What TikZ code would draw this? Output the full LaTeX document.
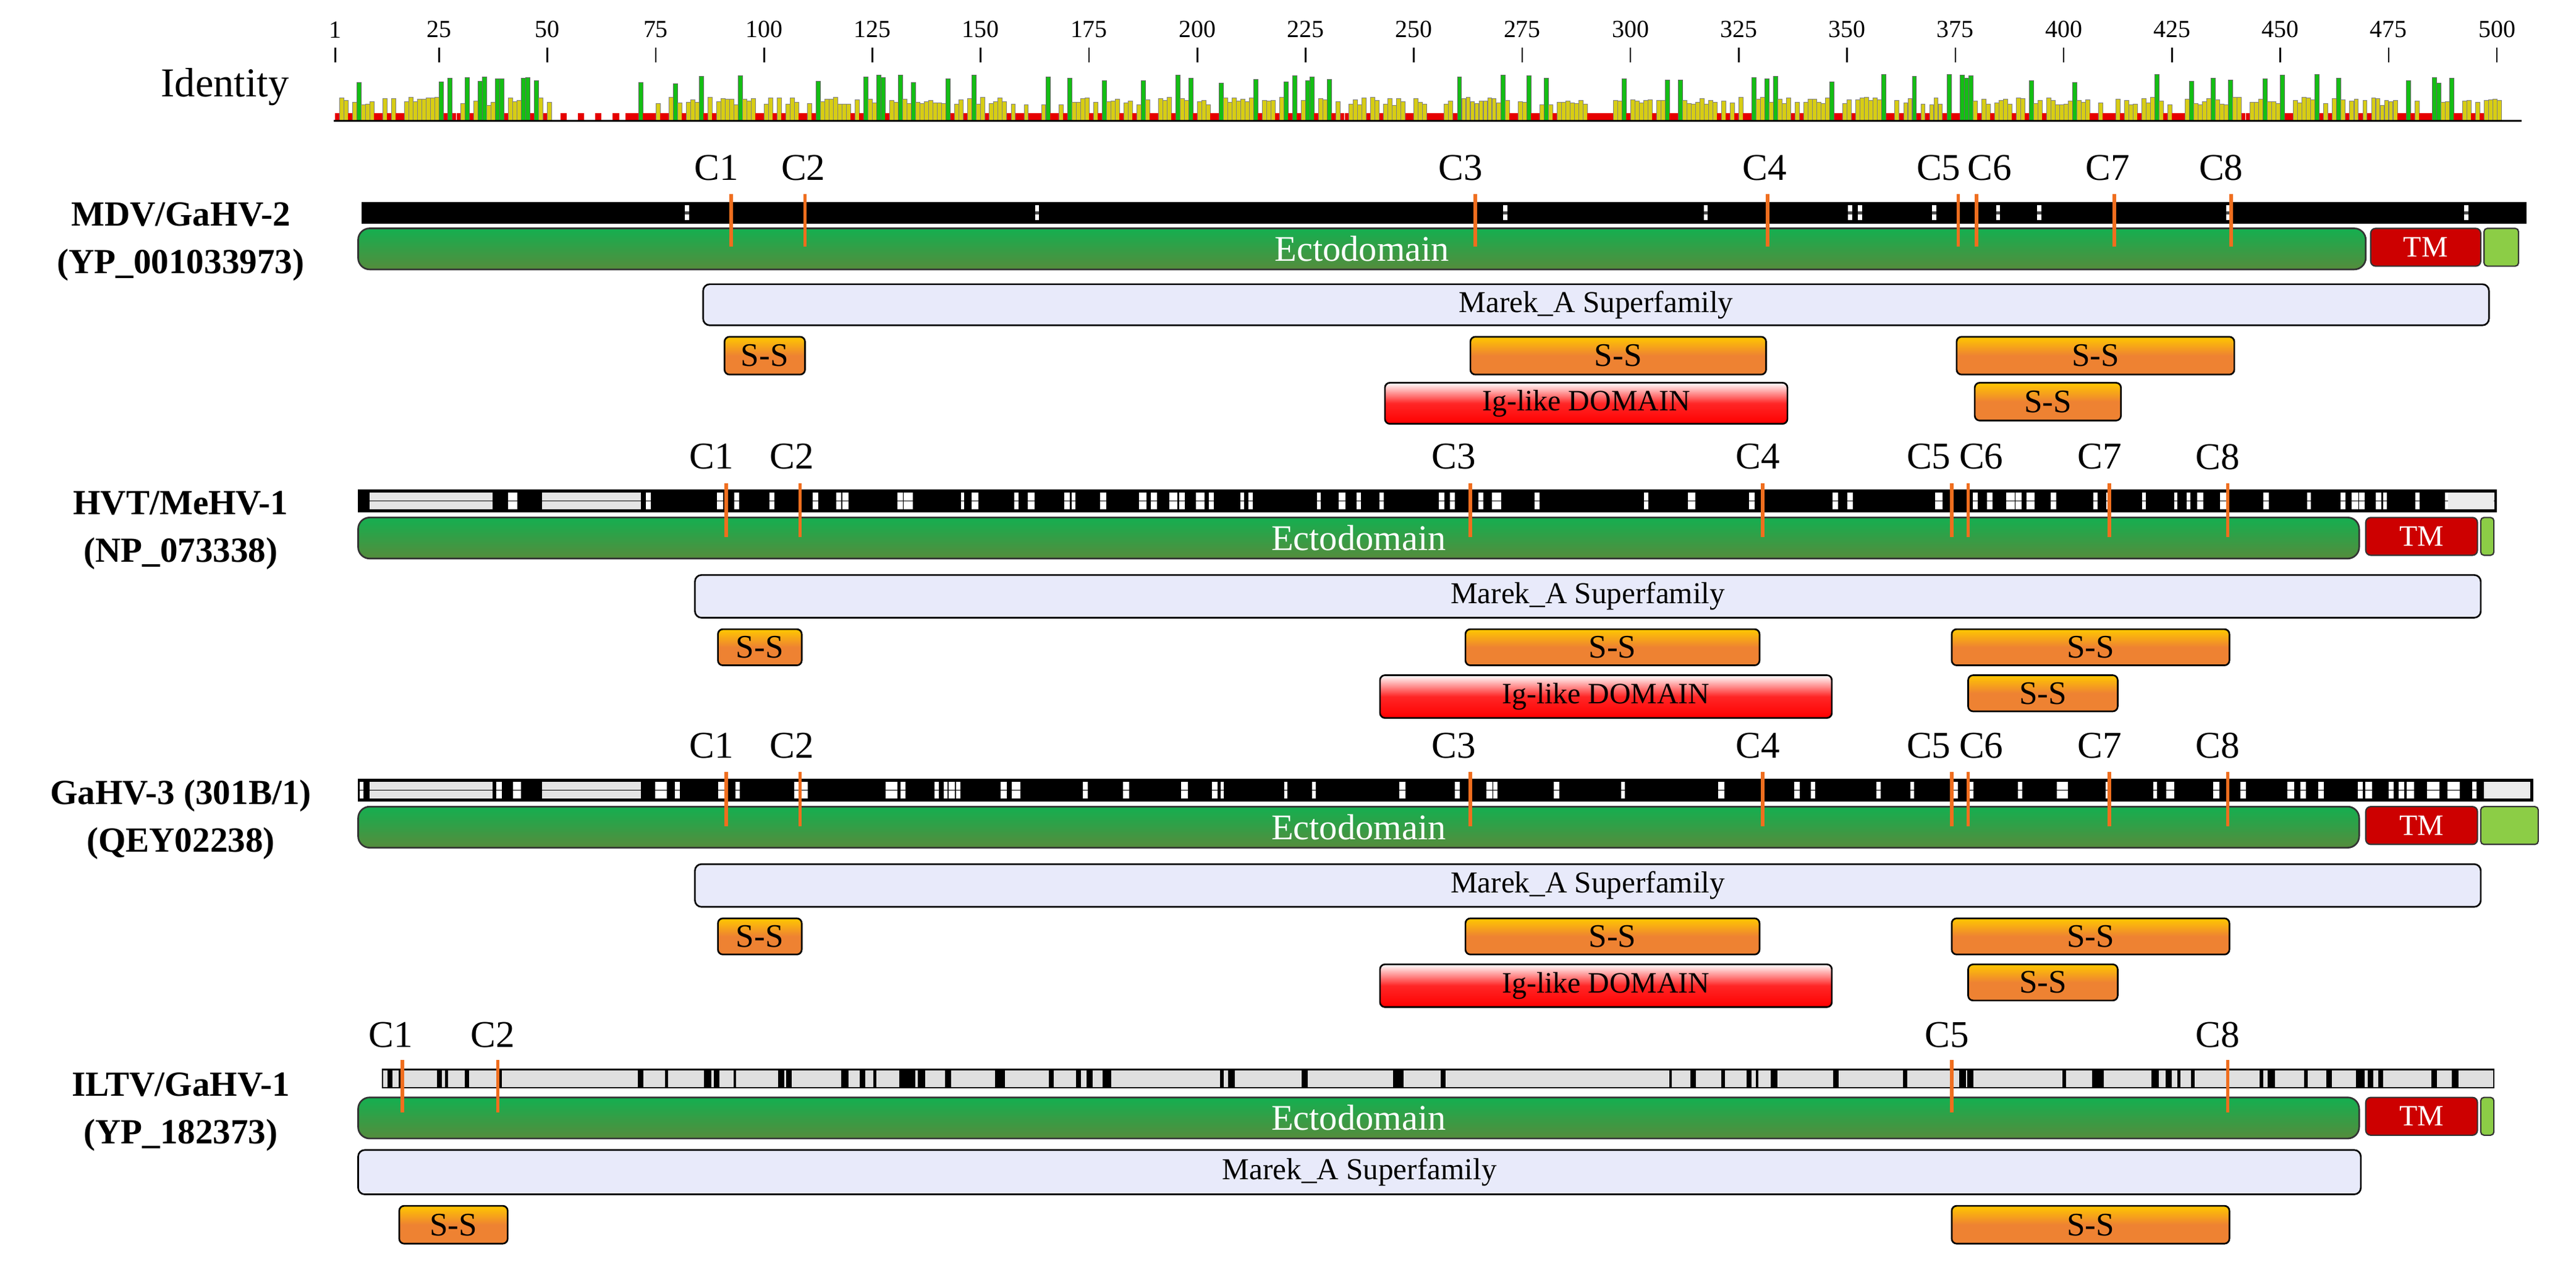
\documentclass[tikz,border=0pt]{standalone}
\usepackage{fontspec}
\setmainfont{Liberation Serif}
\definecolor{ecto1}{RGB}{20,175,80}
\definecolor{ecto2}{RGB}{85,140,60}
\definecolor{tmred}{RGB}{205,0,0}
\definecolor{ltg}{RGB}{140,205,70}
\definecolor{marek}{RGB}{232,234,250}
\definecolor{or1}{RGB}{255,200,0}
\definecolor{or2}{RGB}{238,130,50}
\definecolor{cline}{RGB}{240,110,30}
\definecolor{hgreen}{RGB}{20,190,20}
\definecolor{hyel}{RGB}{215,205,20}
\definecolor{hred}{RGB}{230,0,0}
\tikzset{
 ecto/.style={draw=black!80,line width=1pt,rounded corners=7pt,top color=ecto1,bottom color=ecto2,text=white,font=\fontsize{22}{22}\selectfont},
 tm/.style={draw=black!80,line width=0.8pt,rounded corners=3pt,fill=tmred,text=white,font=\fontsize{18}{18}\selectfont},
 cyto/.style={draw=black!80,line width=0.8pt,rounded corners=2pt,fill=ltg},
 mar/.style={draw=black,line width=1pt,rounded corners=4pt,fill=marek,font=\fontsize{18.5}{18.5}\selectfont},
 ss/.style={draw=black,line width=1pt,rounded corners=3pt,top color=or1,bottom color=or2,middle color=or2,font=\fontsize{20}{20}\selectfont},
 ig/.style={draw=black,line width=1pt,rounded corners=3pt,top color=white,bottom color=red,middle color=red!85!white,font=\fontsize{18}{18}\selectfont},
 clab/.style={font=\fontsize{23}{23}\selectfont,inner sep=0pt},
 cmark/.style={draw=cline,line width=2.2pt},
 rowlab/.style={font=\bfseries\fontsize{21.5}{23}\selectfont,align=center,inner sep=0pt},
}
\newcommand\bx[7]{\pgfmathsetmacro\cx{(#2+#4)/2}\pgfmathsetmacro\cy{(#3+#5)/2}\pgfmathsetmacro\ww{#4-#2}\pgfmathsetmacro\hh{#5-#3}\node[#6,minimum width=\ww pt,minimum height=\hh pt,inner sep=0pt] (#1) at (\cx,\cy) {#7};}
\begin{document}
\begin{tikzpicture}[x=1pt,y=-1pt]
\useasboundingbox (0,0) rectangle (1568,776);
\fill[white] (0,0) rectangle (1568,776);
% identity
\node[font=\fontsize{25}{25}\selectfont] (idl) at (137,53) {Identity};
\pgfmathsetseed{7}
\foreach \p in {1,...,500}{
  \pgfmathsetmacro\xx{204+2.637*(\p-1)}
  \pgfmathsetmacro\r{rnd}
  \pgfmathsetmacro\hv{(\p>50 && \p<68) ? 0 : (\r<0.14 ? 22+6*rnd : (\r<0.7 ? 9+5*rnd : 4))}
  \pgfmathsetmacro\cc{(\r<0.14) ? 1 : ((\r<0.7) ? 2 : 3)}
  \ifdim\hv pt>0pt
   \ifnum\cc=1 \fill[hgreen,draw=black!60,line width=0.2pt] (\xx,73) rectangle +(2.6,-\hv);\fi
   \ifnum\cc=2 \fill[hyel,draw=black!50,line width=0.2pt] (\xx,73) rectangle +(2.6,-\hv);\fi
   \ifnum\cc=3 \fill[hred] (\xx,73) rectangle +(2.6,-\hv);\fi
  \fi
}
\foreach \p in {52,56,60,64}{\fill[hred] (204+2.637*\p,73) rectangle +(4,-4);}
\draw[black,line width=1pt] (203,73.5) -- (1535,73.5);
\foreach \p/\l in {1/1,25/25,50/50,75/75,100/100,125/125,150/150,175/175,200/200,225/225,250/250,275/275,300/300,325/325,350/350,375/375,400/400,425/425,450/450,475/475,500/500}{
  \pgfmathsetmacro\xx{204+2.637*(\p-1)}
  \draw[line width=1pt] (\xx,29) -- (\xx,38);
  \node[font=\fontsize{15}{15}\selectfont,inner sep=0pt] at (\xx,18) {\l};
}
% ---------- Row 1 ----------
\node[rowlab] (r1) at (110,147) {MDV/GaHV-2\\[6pt](YP\_001033973)};
\fill[black] (220,123) rectangle (1538,136);
\foreach \w in {417,630,915,1037,1125,1131,1176,1215,1240,1355,1500}{\fill[white] (\w,125) rectangle +(2.5,9); \fill[black!70] (\w,128.5) rectangle +(2.5,2);}
\bx{e1}{218}{139}{1440}{164}{ecto}{Ectodomain}
\bx{t1}{1443}{139}{1510}{162}{tm}{TM}
\bx{g1}{1512}{139}{1533}{162}{cyto}{}
\bx{m1}{428}{173}{1515}{198}{mar}{Marek\_A Superfamily}
\bx{s1a}{441}{205}{490}{228}{ss}{S-S}
\bx{s1b}{895}{205}{1075}{228}{ss}{S-S}
\bx{s1c}{1191}{205}{1360}{228}{ss}{S-S}
\bx{i1}{843}{233}{1088}{258}{ig}{Ig-like DOMAIN}
\bx{s1d}{1202}{233}{1291}{256}{ss}{S-S}
\foreach \n/\x/\lx in {1/445/436,2/490/489,3/898/889,4/1076/1074,7/1287/1283,8/1358/1352}{\node[clab] at (\lx,102) {C\n}; \draw[cmark] (\x,118) -- (\x,150);}
\node[clab] at (1180,102) {C5}; \node[clab] at (1211,102) {C6};
\draw[cmark] (1192,118) -- (1192,150); \draw[cmark] (1203,118) -- (1203,150);
% ---------- Row 2 / 3 ----------
\foreach \dy/\ra/\rb/\bend/\gend in {176/HVT\slash MeHV-1/(NP\_073338)/1520/1518, 352/GaHV-3 (301B\slash 1)/(QEY02238)/1542/1545}{
 \begin{scope}[yshift=-\dy pt]
 \node[rowlab] at (110,147) {\ra\\[6pt]\rb};
 \fill[black] (218,122) rectangle (\bend,136);
 \pgfmathsetseed{\dy}
 \foreach \k in {1,...,90}{\pgfmathsetmacro\ww{218+rnd*(\bend-218)}\fill[white] (\ww,124) rectangle +(2+2*rnd,10);}
 \fill[white!90!black] (225,124) rectangle (300,134);
 \fill[white!90!black] (330,124) rectangle (390,134);
 \draw[black] (218,129) -- (\bend,129);
 \fill[white!92!black] (\bend-30,124) rectangle (\bend-2,134);
 \bx{}{218}{139}{1436}{164}{ecto}{Ectodomain}
 \bx{}{1440}{139}{1508}{162}{tm}{TM}
 \bx{}{1510}{139}{\gend}{162}{cyto}{}
 \bx{}{423}{174}{1510}{200}{mar}{Marek\_A Superfamily}
 \bx{}{437}{207}{488}{229}{ss}{S-S}
 \bx{}{892}{207}{1071}{229}{ss}{S-S}
 \bx{}{1188}{207}{1357}{229}{ss}{S-S}
 \bx{}{840}{235}{1115}{261}{ig}{Ig-like DOMAIN}
 \bx{}{1198}{235}{1289}{257}{ss}{S-S}
 \foreach \n/\x/\lx in {1/442/433,2/487/482,3/895/885,4/1073/1070,7/1284/1278,8/1356/1350}{\node[clab] at (\lx,102) {C\n}; \draw[cmark] (\x,118) -- (\x,151);}
 \node[clab] at (1174,102) {C5}; \node[clab] at (1206,102) {C6};
 \draw[cmark] (1188,118) -- (1188,151); \draw[cmark] (1198,118) -- (1198,151);
 \end{scope}
}
% ---------- Row 4 ----------
\node[rowlab] (r4) at (110,677) {ILTV/GaHV-1\\[6pt](YP\_182373)};
\fill[white!88!black,draw=black,line width=0.8pt] (233,651) rectangle (1518,662);
\pgfmathsetseed{99}
\foreach \k in {1,...,70}{\pgfmathsetmacro\ww{233+rnd*1280}\fill[black] (\ww,651) rectangle +(1.5+3*rnd,11);}
\bx{e4}{218}{668}{1436}{693}{ecto}{Ectodomain}
\bx{t4}{1440}{668}{1508}{691}{tm}{TM}
\bx{g4}{1510}{668}{1518}{691}{cyto}{}
\bx{m4}{218}{700}{1437}{727}{mar}{Marek\_A Superfamily}
\bx{s4a}{243}{734}{309}{757}{ss}{S-S}
\bx{s4b}{1188}{734}{1357}{757}{ss}{S-S}
\foreach \n/\x/\lx in {1/245/238,2/303/300,5/1188/1185,8/1356/1350}{\node[clab] at (\lx,630) {C\n}; \draw[cmark] (\x,645) -- (\x,677);}
\end{tikzpicture}
\end{document}
